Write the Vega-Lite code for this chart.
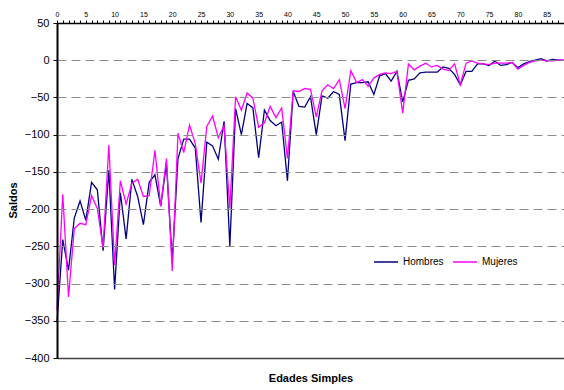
{
  "$schema": "https://vega.github.io/schema/vega-lite/v6.json",
  "width": 507,
  "height": 335,
  "autosize": {"type": "none"},
  "padding": {"left": 57, "top": 23, "right": 0, "bottom": 32},
  "background": "white",
  "config": {
    "view": {"stroke": null},
    "font": "Liberation Sans",
    "axis": {"labelColor": "black", "titleColor": "black", "labelFont": "Liberation Sans", "titleFont": "Liberation Sans"}
  },
  "data": {
    "values": [
      {"edad": 0, "Hombres": -352, "Mujeres": -336},
      {"edad": 1, "Hombres": -241, "Mujeres": -180},
      {"edad": 2, "Hombres": -282, "Mujeres": -318},
      {"edad": 3, "Hombres": -212, "Mujeres": -226},
      {"edad": 4, "Hombres": -189, "Mujeres": -219},
      {"edad": 5, "Hombres": -215, "Mujeres": -221},
      {"edad": 6, "Hombres": -164, "Mujeres": -182},
      {"edad": 7, "Hombres": -174, "Mujeres": -199},
      {"edad": 8, "Hombres": -256, "Mujeres": -252},
      {"edad": 9, "Hombres": -148, "Mujeres": -114},
      {"edad": 10, "Hombres": -308, "Mujeres": -275},
      {"edad": 11, "Hombres": -178, "Mujeres": -162},
      {"edad": 12, "Hombres": -240, "Mujeres": -193},
      {"edad": 13, "Hombres": -160, "Mujeres": -165},
      {"edad": 14, "Hombres": -183, "Mujeres": -160},
      {"edad": 15, "Hombres": -221, "Mujeres": -183},
      {"edad": 16, "Hombres": -164, "Mujeres": -182},
      {"edad": 17, "Hombres": -154, "Mujeres": -121},
      {"edad": 18, "Hombres": -196, "Mujeres": -196},
      {"edad": 19, "Hombres": -139, "Mujeres": -132},
      {"edad": 20, "Hombres": -270, "Mujeres": -283},
      {"edad": 21, "Hombres": -132, "Mujeres": -98},
      {"edad": 22, "Hombres": -106, "Mujeres": -124},
      {"edad": 23, "Hombres": -106, "Mujeres": -87},
      {"edad": 24, "Hombres": -118, "Mujeres": -112},
      {"edad": 25, "Hombres": -218, "Mujeres": -165},
      {"edad": 26, "Hombres": -110, "Mujeres": -89},
      {"edad": 27, "Hombres": -115, "Mujeres": -75},
      {"edad": 28, "Hombres": -133, "Mujeres": -104},
      {"edad": 29, "Hombres": -82, "Mujeres": -88},
      {"edad": 30, "Hombres": -250, "Mujeres": -199},
      {"edad": 31, "Hombres": -65, "Mujeres": -49},
      {"edad": 32, "Hombres": -100, "Mujeres": -67},
      {"edad": 33, "Hombres": -58, "Mujeres": -44},
      {"edad": 34, "Hombres": -64, "Mujeres": -51},
      {"edad": 35, "Hombres": -131, "Mujeres": -90},
      {"edad": 36, "Hombres": -67, "Mujeres": -84},
      {"edad": 37, "Hombres": -81, "Mujeres": -62},
      {"edad": 38, "Hombres": -88, "Mujeres": -77},
      {"edad": 39, "Hombres": -83, "Mujeres": -64},
      {"edad": 40, "Hombres": -162, "Mujeres": -132},
      {"edad": 41, "Hombres": -42, "Mujeres": -41},
      {"edad": 42, "Hombres": -62, "Mujeres": -42},
      {"edad": 43, "Hombres": -63, "Mujeres": -38},
      {"edad": 44, "Hombres": -49, "Mujeres": -39},
      {"edad": 45, "Hombres": -100, "Mujeres": -76},
      {"edad": 46, "Hombres": -48, "Mujeres": -41},
      {"edad": 47, "Hombres": -51, "Mujeres": -33},
      {"edad": 48, "Hombres": -42, "Mujeres": -38},
      {"edad": 49, "Hombres": -46, "Mujeres": -26},
      {"edad": 50, "Hombres": -108, "Mujeres": -65},
      {"edad": 51, "Hombres": -32, "Mujeres": -14},
      {"edad": 52, "Hombres": -30, "Mujeres": -30},
      {"edad": 53, "Hombres": -30, "Mujeres": -26},
      {"edad": 54, "Hombres": -29, "Mujeres": -35},
      {"edad": 55, "Hombres": -46, "Mujeres": -24},
      {"edad": 56, "Hombres": -21, "Mujeres": -19},
      {"edad": 57, "Hombres": -18, "Mujeres": -17},
      {"edad": 58, "Hombres": -28, "Mujeres": -18},
      {"edad": 59, "Hombres": -15, "Mujeres": -15},
      {"edad": 60, "Hombres": -56, "Mujeres": -71},
      {"edad": 61, "Hombres": -27, "Mujeres": -5},
      {"edad": 62, "Hombres": -25, "Mujeres": -13},
      {"edad": 63, "Hombres": -17, "Mujeres": -8},
      {"edad": 64, "Hombres": -16, "Mujeres": -4},
      {"edad": 65, "Hombres": -16, "Mujeres": -9},
      {"edad": 66, "Hombres": -16, "Mujeres": -7},
      {"edad": 67, "Hombres": -9, "Mujeres": -12},
      {"edad": 68, "Hombres": -11, "Mujeres": -14},
      {"edad": 69, "Hombres": -19, "Mujeres": -5},
      {"edad": 70, "Hombres": -33, "Mujeres": -33},
      {"edad": 71, "Hombres": -15, "Mujeres": -4},
      {"edad": 72, "Hombres": -15, "Mujeres": -1},
      {"edad": 73, "Hombres": -5, "Mujeres": -4},
      {"edad": 74, "Hombres": -5, "Mujeres": -5},
      {"edad": 75, "Hombres": -7, "Mujeres": -6},
      {"edad": 76, "Hombres": -1, "Mujeres": -4},
      {"edad": 77, "Hombres": -7, "Mujeres": -4},
      {"edad": 78, "Hombres": -6, "Mujeres": -4},
      {"edad": 79, "Hombres": -3, "Mujeres": -3},
      {"edad": 80, "Hombres": -10, "Mujeres": -12},
      {"edad": 81, "Hombres": -5, "Mujeres": -7},
      {"edad": 82, "Hombres": -2, "Mujeres": -3},
      {"edad": 83, "Hombres": 0, "Mujeres": -1},
      {"edad": 84, "Hombres": 2, "Mujeres": 0},
      {"edad": 85, "Hombres": -1, "Mujeres": -1},
      {"edad": 86, "Hombres": 1, "Mujeres": -1},
      {"edad": 87, "Hombres": 0, "Mujeres": 0},
      {"edad": 88, "Hombres": 0, "Mujeres": 0}
    ]
  },
  "transform": [{"fold": ["Hombres", "Mujeres"], "as": ["sexo", "saldo"]}],
  "layer": [
    {
      "mark": {"type": "line", "strokeWidth": 1.3},
      "encoding": {
        "x": {
          "field": "edad", "type": "quantitative",
          "scale": {"domain": [0, 88], "nice": false, "zero": false},
          "axis": {
            "orient": "top", "title": null, "tickCount": 88,
            "labelExpr": "datum.value % 5 == 0 && datum.value <= 85 ? datum.label : ''",
            "labelFontSize": 7, "labelPadding": 3, "tickSize": 3,
            "domainColor": "black", "domainWidth": 1.5, "tickColor": "black", "tickWidth": 1,
            "labelOverlap": false, "labelFlush": false, "grid": false, "zindex": 1
          }
        },
        "y": {
          "field": "saldo", "type": "quantitative",
          "scale": {"domain": [-400, 50], "nice": false},
          "axis": {
            "title": "Saldos",
            "values": [50, 0, -50, -100, -150, -200, -250, -300, -350, -400],
            "grid": true, "gridDash": [9, 5], "gridColor": "#8c8c8c", "gridWidth": 1,
            "domainColor": "black", "domainWidth": 2, "tickColor": "black", "tickSize": 4,
            "labelPadding": 4, "labelFontSize": 11,
            "titleFontSize": 11, "titleFontWeight": "bold",
            "titleX": -44, "titleY": 177, "titleBaseline": "middle", "titleAngle": -90, "titleAlign": "center",
            "zindex": 1
          }
        },
        "color": {
          "field": "sexo", "type": "nominal",
          "scale": {"domain": ["Hombres", "Mujeres"], "range": ["#000080", "#FF00FF"]},
          "legend": {
            "title": null, "orient": "none", "direction": "horizontal",
            "legendX": 316, "legendY": 226,
            "symbolType": "stroke", "symbolSize": 576, "symbolStrokeWidth": 1.5,
            "labelFontSize": 10, "labelOffset": 4, "columnPadding": 6, "padding": 0,
            "labelColor": "black", "labelFont": "Liberation Sans"
          }
        }
      }
    },
    {
      "mark": {"type": "point", "opacity": 0},
      "encoding": {
        "x": {
          "field": "edad", "type": "quantitative",
          "scale": {"domain": [0, 88], "nice": false, "zero": false},
          "axis": {
            "orient": "bottom", "title": "Edades Simples", "labels": false, "ticks": false,
            "domainColor": "#404040", "domainWidth": 1.5, "grid": false,
            "titleFontWeight": "bold", "titleFontSize": 11, "titleY": 20, "titleBaseline": "middle",
            "zindex": 1
          }
        }
      }
    }
  ],
  "resolve": {"axis": {"x": "independent"}}
}
